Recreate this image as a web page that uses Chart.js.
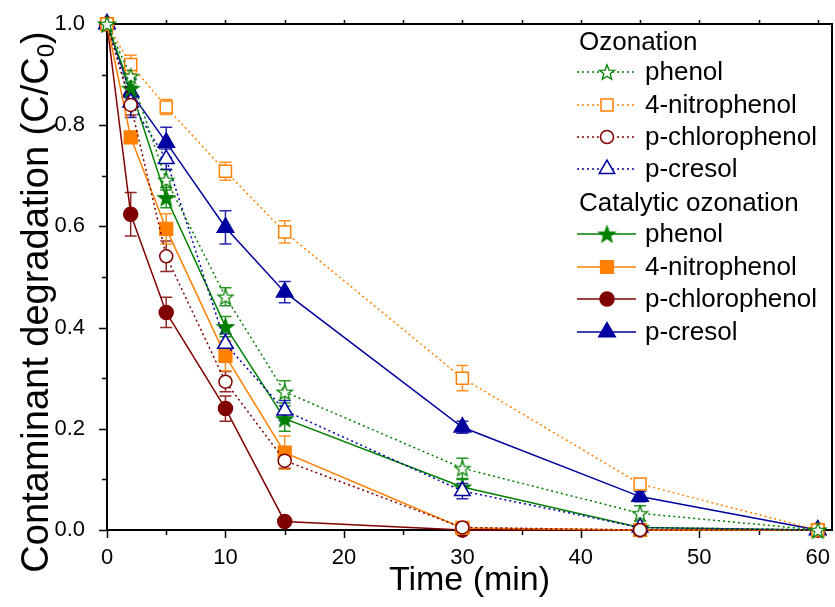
<!DOCTYPE html>
<html>
<head>
<meta charset="utf-8">
<script src="https://cdn.jsdelivr.net/npm/chart.js@4.4.1/dist/chart.umd.min.js"></script>
<style>
html,body{margin:0;padding:0;background:#fff;}
#wrap{position:relative;width:835px;height:607px;}
</style>
</head>
<body>
<div id="wrap"><canvas id="c" width="835" height="607"></canvas></div>
<script>
// ---- data ----
const times = [0, 2, 5, 10, 15, 30, 45, 60];
const xTickLabels = [0, 10, 20, 30, 40, 50, 60];
const yTickLabels = [0.0, 0.2, 0.4, 0.6, 0.8, 1.0];

const ozPhenol     = [1.0, 0.897, 0.692, 0.461, 0.273, 0.122, 0.033, 0.0];
const ozPhenolErr  = [0, 0.02, 0.02, 0.018, 0.022, 0.02, 0.015, 0];
const ozNitro      = [1.0, 0.92, 0.836, 0.709, 0.589, 0.300, 0.091, 0.0];
const ozNitroErr   = [0, 0.018, 0.015, 0.018, 0.022, 0.025, 0.01, 0];
const ozChloro     = [1.0, 0.84, 0.541, 0.293, 0.137, 0.005, 0.0, 0.0];
const ozChloroErr  = [0, 0.02, 0.03, 0.02, 0.015, 0.008, 0, 0];
const ozCresol     = [1.0, 0.845, 0.733, 0.368, 0.236, 0.077, 0.005, 0.0];
const ozCresolErr  = [0, 0.03, 0.02, 0.02, 0.02, 0.015, 0.005, 0];

const catPhenol    = [1.0, 0.873, 0.657, 0.402, 0.22, 0.085, 0.005, 0.0];
const catPhenolErr = [0, 0.02, 0.02, 0.02, 0.025, 0.015, 0.005, 0];
const catNitro     = [1.0, 0.776, 0.595, 0.344, 0.153, 0.004, 0.0, 0.0];
const catNitroErr  = [0, 0.01, 0.03, 0.03, 0.033, 0.01, 0, 0];
const catChloro    = [1.0, 0.624, 0.43, 0.24, 0.017, 0.0, 0.0, 0.0];
const catChloroErr = [0, 0.043, 0.03, 0.025, 0, 0, 0, 0];
const catCresol    = [1.0, 0.865, 0.766, 0.598, 0.47, 0.203, 0.066, 0.0];
const catCresolErr = [0, 0.025, 0.03, 0.033, 0.021, 0.012, 0.01, 0];

const GREEN = '#008000', ORANGE = '#FF8000', DRED = '#800000', BLUE = '#0000A0';

function makeStar(fill, stroke, R) {
  const s = Math.ceil(2 * R + 4);
  const cv = document.createElement('canvas');
  cv.width = s; cv.height = s;
  const c = cv.getContext('2d');
  const cx = s / 2, cy = s / 2 + R * 0.1, r = R * 0.42;
  c.beginPath();
  for (let i = 0; i < 10; i++) {
    const rad = (i % 2 === 0) ? R : r;
    const a = -Math.PI / 2 + i * Math.PI / 5;
    const px = cx + rad * Math.cos(a), py = cy + rad * Math.sin(a);
    if (i === 0) c.moveTo(px, py); else c.lineTo(px, py);
  }
  c.closePath();
  c.fillStyle = fill; c.fill();
  c.lineWidth = 1.3; c.strokeStyle = stroke; c.stroke();
  return cv;
}
const starOpen = makeStar('#ffffff', GREEN, 8);
const starFilled = makeStar(GREEN, GREEN, 8.5);

function pts(arr) { return times.map((t, i) => ({x: t, y: arr[i]})); }

function ds(label, arr, err, color, style, filled, dotted, radius) {
  return {
    label: label,
    data: pts(arr),
    err: err,
    borderColor: color,
    backgroundColor: color,
    borderWidth: 1.5,
    borderDash: dotted ? [2, 3] : [],
    pointStyle: style,
    pointRadius: radius,
    pointHoverRadius: radius,
    pointBorderWidth: 1.5,
    pointBorderColor: color,
    pointBackgroundColor: filled ? color : '#ffffff',
    tension: 0,
    fill: false,
    clip: false,
    filled: filled,
    dotted: dotted
  };
}

const datasets = [
  ds('phenol', ozPhenol, ozPhenolErr, GREEN, starOpen, false, true, 8),
  ds('4-nitrophenol', ozNitro, ozNitroErr, ORANGE, 'rect', false, true, 8.5),
  ds('p-chlorophenol', ozChloro, ozChloroErr, DRED, 'circle', false, true, 6.5),
  ds('p-cresol', ozCresol, ozCresolErr, BLUE, 'triangle', false, true, 9),
  ds('phenol', catPhenol, catPhenolErr, GREEN, starFilled, true, false, 8),
  ds('4-nitrophenol', catNitro, catNitroErr, ORANGE, 'rect', true, false, 9),
  ds('p-chlorophenol', catChloro, catChloroErr, DRED, 'circle', true, false, 7),
  ds('p-cresol', catCresol, catCresolErr, BLUE, 'triangle', true, false, 9.5)
];

const FONT = 'Arial, "Liberation Sans", sans-serif';

// error bars (drawn beneath markers)
const errorBars = {
  id: 'errorBars',
  beforeDatasetsDraw(chart) {
    const ctx = chart.ctx, ys = chart.scales.y;
    ctx.save();
    chart.data.datasets.forEach((d, di) => {
      const meta = chart.getDatasetMeta(di);
      meta.data.forEach((p, i) => {
        const e = d.err[i];
        if (!e) return;
        const v = d.data[i].y;
        const y1 = ys.getPixelForValue(v + e), y2 = ys.getPixelForValue(Math.max(v - e, -0.005));
        ctx.strokeStyle = d.borderColor;
        ctx.globalAlpha = 0.85;
        ctx.lineWidth = 1.5;
        ctx.beginPath();
        ctx.moveTo(p.x, y1); ctx.lineTo(p.x, y2);
        ctx.moveTo(p.x - 6, y1); ctx.lineTo(p.x + 6, y1);
        ctx.moveTo(p.x - 6, y2); ctx.lineTo(p.x + 6, y2);
        ctx.stroke();
      });
    });
    ctx.restore();
  }
};

// frame, ticks, titles
const frame = {
  id: 'frame',
  beforeDatasetsDraw(chart) {
    const ctx = chart.ctx, a = chart.chartArea, xs = chart.scales.x, ys = chart.scales.y;
    ctx.save();
    ctx.strokeStyle = '#000';
    ctx.lineWidth = 2;
    ctx.strokeRect(a.left, a.top, a.right - a.left, a.bottom - a.top);
    ctx.lineWidth = 1.5;
    ctx.beginPath();
    for (let t = 0; t <= 60; t += 5) {
      const px = Math.round(xs.getPixelForValue(t)) + 0.5;
      const L = (t % 10 === 0) ? 8 : 5;
      ctx.moveTo(px, a.bottom); ctx.lineTo(px, a.bottom + L);
      ctx.moveTo(px, a.top); ctx.lineTo(px, a.top - Math.min(L, 4));
    }
    for (let k = 0; k <= 10; k++) {
      const v = k / 10;
      const py = Math.round(ys.getPixelForValue(v)) + 0.5;
      const L = (k % 2 === 0) ? 8 : 5;
      ctx.moveTo(a.left, py); ctx.lineTo(a.left - L, py);
    }
    ctx.stroke();
    ctx.restore();
  },
  afterDraw(chart) {
    const ctx = chart.ctx, a = chart.chartArea;
    ctx.save();
    ctx.fillStyle = '#000';
    // x title
    ctx.font = '34px ' + FONT;
    ctx.textAlign = 'center';
    ctx.textBaseline = 'middle';
    ctx.fillText('Time (min)', (a.left + a.right) / 2, 581);
    // y title with subscript
    ctx.translate(35, 302);
    ctx.rotate(-Math.PI / 2);
    const main = 'Contaminant degradation (C/C';
    const big = '38px ' + FONT, small = '24px ' + FONT;
    ctx.font = big; const w1 = ctx.measureText(main).width; const w3 = ctx.measureText(')').width;
    ctx.font = small; const w2 = ctx.measureText('0').width;
    let x0 = -(w1 + w2 + w3) / 2;
    ctx.textAlign = 'left';
    ctx.textBaseline = 'alphabetic';
    ctx.font = big; ctx.fillText(main, x0, 13);
    ctx.font = small; ctx.fillText('0', x0 + w1, 19);
    ctx.font = big; ctx.fillText(')', x0 + w1 + w2, 13);
    ctx.restore();

    // legend
    ctx.save();
    ctx.font = '26px ' + FONT;
    ctx.fillStyle = '#000';
    ctx.textAlign = 'left';
    ctx.textBaseline = 'middle';
    const rows = [42, 72, 105, 137, 169, 203, 234, 267, 299, 332];
    ctx.fillText('Ozonation', 579, rows[0] + 1);
    ctx.fillText('Catalytic ozonation', 579, rows[5] + 1);
    const order = [[0, 1], [1, 2], [2, 3], [3, 4], [4, 6], [5, 7], [6, 8], [7, 9]];
    order.forEach(([di, ri]) => {
      const d = chart.data.datasets[di];
      const y = rows[ri];
      ctx.save();
      ctx.strokeStyle = d.borderColor;
      ctx.lineWidth = 1.5;
      ctx.setLineDash(d.dotted ? [2, 3] : []);
      ctx.beginPath(); ctx.moveTo(577, y); ctx.lineTo(636, y); ctx.stroke();
      ctx.setLineDash([]);
      const st = d.pointStyle;
      if (typeof st !== 'string') {
        ctx.drawImage(st, 607 - st.width / 2, y - st.height / 2);
      } else {
        ctx.fillStyle = d.pointBackgroundColor;
        ctx.strokeStyle = d.borderColor;
        ctx.lineWidth = 1.5;
        Chart.helpers.drawPoint(ctx, {pointStyle: st, radius: d.pointRadius, borderWidth: 1.5, rotation: 0}, 607, y);
      }
      ctx.restore();
      ctx.fillStyle = '#000';
      ctx.fillText(d.label, 645, y + 1);
    });
    ctx.restore();
  }
};

new Chart(document.getElementById('c'), {
  type: 'line',
  data: { datasets: datasets },
  options: {
    responsive: false,
    animation: false,
    events: [],
    layout: { autoPadding: false, padding: { top: 24, right: 3, left: 0, bottom: 0 } },
    plugins: { legend: { display: false }, tooltip: { enabled: false }, title: { display: false } },
    scales: {
      x: {
        type: 'linear', min: 0, max: 61.2,
        afterBuildTicks: (s) => { s.ticks = xTickLabels.map(v => ({value: v})); },
        afterFit: (s) => { s.height = 77; s.paddingLeft = 0; s.paddingRight = 0; },
        grid: { display: false },
        border: { display: false },
        ticks: { color: '#000', font: { size: 22, family: FONT }, padding: 7, maxRotation: 0, autoSkip: false,
                 callback: (v) => String(v) }
      },
      y: {
        type: 'linear', min: 0, max: 1.0,
        afterBuildTicks: (s) => { s.ticks = yTickLabels.map(v => ({value: v})); },
        afterFit: (s) => { s.width = 107; s.paddingTop = 0; s.paddingBottom = 0; },
        grid: { display: false },
        border: { display: false },
        ticks: { color: '#000', font: { size: 22, family: FONT }, padding: 14, autoSkip: false,
                 callback: (v) => Number(v).toFixed(1) }
      }
    }
  },
  plugins: [errorBars, frame]
});
</script>
</body>
</html>
